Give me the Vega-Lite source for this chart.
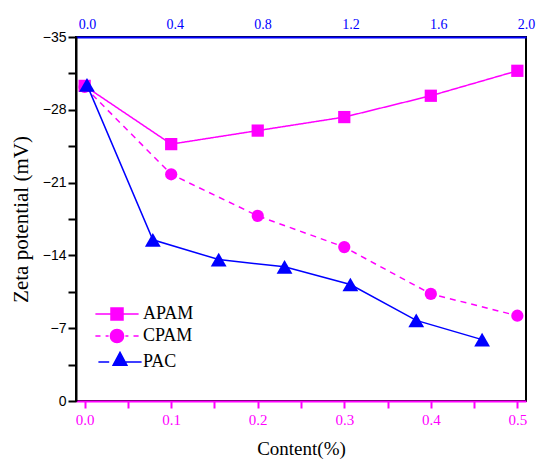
{
  "$schema": "https://vega.github.io/schema/vega-lite/v6.json",
  "width": 450,
  "height": 364,
  "padding": {"left": 10, "top": 17, "right": 5, "bottom": 5},
  "config": {
    "font": "Liberation Serif",
    "view": {"stroke": "black", "strokeWidth": 2},
    "axis": {
      "grid": false,
      "domainWidth": 2,
      "tickWidth": 2,
      "labelOverlap": false,
      "labelFlush": false,
      "titleFontWeight": "normal",
      "titleColor": "black"
    },
    "legend": {"labelFont": "Liberation Serif"}
  },
  "data": {
    "values": [
      {"series": "APAM", "dose": 0.0, "zeta": -30.3},
      {"series": "APAM", "dose": 0.1, "zeta": -24.7},
      {"series": "APAM", "dose": 0.2, "zeta": -26.0},
      {"series": "APAM", "dose": 0.3, "zeta": -27.3},
      {"series": "APAM", "dose": 0.4, "zeta": -29.35},
      {"series": "APAM", "dose": 0.5, "zeta": -31.75},
      {"series": "CPAM", "dose": 0.0, "zeta": -30.2},
      {"series": "CPAM", "dose": 0.1, "zeta": -21.8},
      {"series": "CPAM", "dose": 0.2, "zeta": -17.8},
      {"series": "CPAM", "dose": 0.3, "zeta": -14.8},
      {"series": "CPAM", "dose": 0.4, "zeta": -10.3},
      {"series": "CPAM", "dose": 0.5, "zeta": -8.2},
      {"series": "PAC", "dose": 0.0, "zeta": -30.4},
      {"series": "PAC", "dose": 0.3, "zeta": -15.5},
      {"series": "PAC", "dose": 0.6, "zeta": -13.6},
      {"series": "PAC", "dose": 0.9, "zeta": -12.9},
      {"series": "PAC", "dose": 1.2, "zeta": -11.2},
      {"series": "PAC", "dose": 1.5, "zeta": -7.75},
      {"series": "PAC", "dose": 1.8, "zeta": -5.9}
    ]
  },
  "encoding": {
    "y": {
      "field": "zeta",
      "type": "quantitative",
      "scale": {"domain": [-35, 0], "reverse": true, "nice": false, "zero": false},
      "axis": {
        "title": "Zeta potential (mV)",
        "titleFont": "Liberation Serif",
        "titleFontSize": 21,
        "titlePadding": 11,
        "values": [0, -3.5, -7, -10.5, -14, -17.5, -21, -24.5, -28, -31.5, -35],
        "format": "d",
        "labelExpr": "datum.value % 7 === 0 ? datum.label : ''",
        "labelFont": "Liberation Sans",
        "labelFontSize": 14,
        "labelColor": "black",
        "labelPadding": 2,
        "tickSize": 8,
        "tickColor": "black",
        "domainColor": "black",
        "encode": {"ticks": {"x2": {"value": {"expr": "datum.value % 7 === 0 ? -8 : -5"}}}}
      }
    },
    "color": {
      "field": "series",
      "type": "nominal",
      "scale": {"domain": ["APAM", "CPAM", "PAC"], "range": ["#ff00ff", "#ff00ff", "#0000ff"]},
      "legend": {
        "orient": "none",
        "legendX": 32,
        "legendY": 268,
        "title": null,
        "padding": 0,
        "labelFont": "Liberation Serif",
        "labelFontSize": 18,
        "labelColor": "black",
        "symbolSize": 144,
        "labelOffset": 17,
        "rowPadding": 3,
        "encode": {
          "symbols": {
            "update": {
              "shape": {"signal": "datum.value === 'APAM' ? 'M-3.6,0H-1M1,0H3.6M-1,-1H1V1H-1Z' : datum.value === 'CPAM' ? 'M-3.6,0H-2.75M-1.9,0H-1.4M1.4,0H1.9M2.75,0H3.6M1.1,0A1.1,1.1,0,1,1,-1.1,0A1.1,1.1,0,1,1,1.1,0Z' : 'M-3.1,0H-1.3M1.3,0H4.1M0.5,-1.6L-0.65,0.55L1.65,0.55Z'"},
              "fill": {"signal": "datum.value === 'PAC' ? '#0000ff' : '#ff00ff'"},
              "stroke": {"signal": "datum.value === 'PAC' ? '#0000ff' : '#ff00ff'"},
              "strokeWidth": {"value": 1.5},
              "opacity": {"value": 1}
            }
          }
        }
      }
    }
  },
  "layer": [
    {
      "transform": [{"filter": "datum.series !== 'PAC'"}],
      "encoding": {
        "x": {
          "field": "dose",
          "type": "quantitative",
          "scale": {"domain": [-0.01, 0.51], "nice": false, "zero": false},
          "axis": {
            "orient": "bottom",
            "title": "Content(%)",
            "titleFont": "Liberation Serif",
            "titleFontSize": 19,
            "titlePadding": 12,
            "values": [0, 0.05, 0.1, 0.15, 0.2, 0.25, 0.3, 0.35, 0.4, 0.45, 0.5],
            "format": ".1f",
            "labelExpr": "round(datum.value * 100) % 10 === 0 ? datum.label : ''",
            "labelFont": "Liberation Serif",
            "labelFontSize": 15,
            "labelColor": "#ff00ff",
            "labelPadding": 4,
            "tickSize": 7,
            "tickColor": "#ff00ff",
            "domainColor": "#ff00ff",
            "encode": {"ticks": {"y2": {"value": {"expr": "round(datum.value * 100) % 10 === 0 ? 7 : 4"}}}}
          }
        }
      },
      "layer": [
        {
          "mark": {"type": "line", "strokeWidth": 1.5},
          "encoding": {
            "strokeDash": {
              "field": "series",
              "type": "nominal",
              "scale": {"domain": ["APAM", "CPAM"], "range": [[1, 0], [6, 5]]},
              "legend": null
            }
          }
        },
        {
          "mark": {"type": "point", "filled": true, "opacity": 1, "size": 150},
          "encoding": {
            "shape": {
              "field": "series",
              "type": "nominal",
              "scale": {"domain": ["APAM", "CPAM"], "range": ["square", "circle"]},
              "legend": null
            }
          }
        }
      ]
    },
    {
      "transform": [{"filter": "datum.series === 'PAC'"}],
      "encoding": {
        "x": {
          "field": "dose",
          "type": "quantitative",
          "scale": {"domain": [-0.05, 2.0], "nice": false, "zero": false},
          "axis": {
            "orient": "top",
            "title": null,
            "values": [0, 0.2, 0.4, 0.6, 0.8, 1.0, 1.2, 1.4, 1.6, 1.8, 2.0],
            "format": ".1f",
            "labelExpr": "round(datum.value * 10) % 4 === 0 ? datum.label : ''",
            "labelFont": "Liberation Serif",
            "labelFontSize": 14,
            "labelColor": "#0000ff",
            "labelPadding": 6,
            "tickSize": 0,
            "tickColor": "#0000ff",
            "domainColor": "#0000ff",
            "encode": {"ticks": {"y2": {"value": {"expr": "round(datum.value * 10) % 4 === 0 ? 8 : 5"}}}}
          }
        }
      },
      "layer": [
        {"mark": {"type": "line", "strokeWidth": 1.5}},
        {"mark": {"type": "point", "filled": true, "opacity": 1, "shape": "triangle-up", "size": 250}}
      ]
    }
  ],
  "resolve": {"scale": {"x": "independent"}}
}
